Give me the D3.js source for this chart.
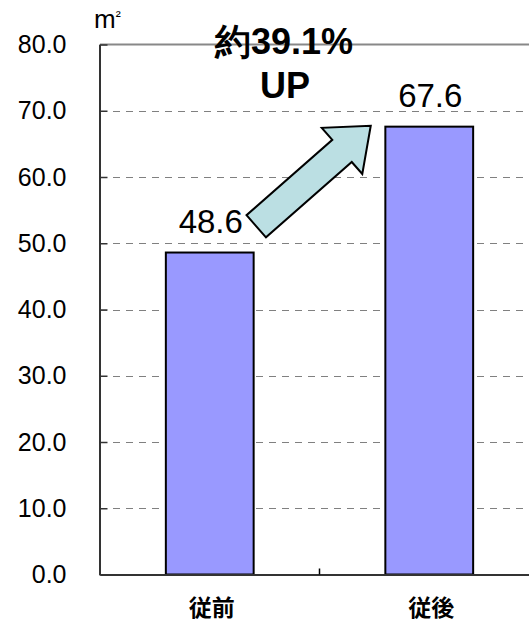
<!DOCTYPE html>
<html>
<head>
<meta charset="utf-8">
<script src="https://cdn.jsdelivr.net/npm/d3@7/dist/d3.min.js"></script>
<style>
  html, body { margin: 0; padding: 0; background: #fff; }
  svg { display: block; }
  text { font-family: "Liberation Sans", Arial, sans-serif; fill: #000; }
  .cjk { font-family: "Noto Sans CJK JP", "Noto Sans CJK SC", sans-serif; }
</style>
</head>
<body>
<svg id="chart" width="529" height="622"></svg>
<script>
// Floor area per household, before and after
const categories = ["従前", "従後"];
const values = [48.6, 67.6];
const yTicks = [0, 10, 20, 30, 40, 50, 60, 70, 80];
const unitLabel = "m";
const increaseLabel = ["約39.1%", "UP"];

const svg = d3.select("#chart");

const plot = { left: 100, right: 539, top: 44.5, bottom: 574.5 };

const y = d3.scaleLinear().domain([0, 80]).range([plot.bottom, plot.top]);
const x = d3.scaleBand()
  .domain(categories)
  .range([plot.left, plot.right])
  .paddingInner(0.6)
  .paddingOuter(0.3);

// dashed gridlines
svg.append("g")
  .selectAll("line")
  .data(yTicks.filter(t => t > 0 && t < 80))
  .join("line")
  .attr("x1", plot.left).attr("x2", plot.right)
  .attr("y1", d => Math.round(y(d)) + 0.5).attr("y2", d => Math.round(y(d)) + 0.5)
  .attr("stroke", "#808080")
  .attr("stroke-width", 1)
  .attr("stroke-dasharray", "7,6");

// top border of plot
svg.append("line")
  .attr("x1", plot.left).attr("x2", plot.right)
  .attr("y1", y(80)).attr("y2", y(80))
  .attr("stroke", "#888")
  .attr("stroke-width", 2);

// bars
svg.append("g")
  .selectAll("rect")
  .data(values)
  .join("rect")
  .attr("x", (d, i) => x(categories[i]))
  .attr("y", d => y(d))
  .attr("width", x.bandwidth())
  .attr("height", d => y(0) - y(d))
  .attr("fill", "#9999FF")
  .attr("stroke", "#000")
  .attr("stroke-width", 2);

// y axis
const yAxis = d3.axisLeft(y)
  .tickValues(yTicks)
  .tickSizeInner(-8)
  .tickSizeOuter(0)
  .tickPadding(33)
  .tickFormat(d3.format(".1f"));
const gy = svg.append("g")
  .attr("transform", `translate(${plot.left - 0.5},0)`)
  .call(yAxis);
gy.select(".domain").attr("stroke", "#333").attr("stroke-width", 2);
gy.selectAll(".tick line").attr("stroke", "#333").attr("stroke-width", 1.5);
gy.selectAll(".tick text")
  .attr("font-size", 25)
  .attr("font-family", "Liberation Sans, Arial, sans-serif")
  .attr("fill", "#000");

// x axis
const xAxis = d3.axisBottom(x).tickSize(0).tickPadding(0);
const gx = svg.append("g")
  .attr("transform", `translate(0,${plot.bottom})`)
  .call(xAxis);
gx.select(".domain").attr("stroke", "#333").attr("stroke-width", 2);
gx.selectAll(".tick text")
  .attr("class", "cjk")
  .attr("font-size", 23)
  .attr("font-weight", 700)
  .attr("fill", "#000")
  .attr("dx", 2)
  .attr("y", 41)
  .attr("dy", 0);

// category boundary tick marks
svg.append("g")
  .selectAll("line")
  .data(categories.slice(1))
  .join("line")
  .attr("x1", d => x(d) - x.step() * x.paddingInner() / 2)
  .attr("x2", d => x(d) - x.step() * x.paddingInner() / 2)
  .attr("y1", plot.bottom).attr("y2", plot.bottom - 6)
  .attr("stroke", "#000")
  .attr("stroke-width", 1.5);

// value labels
svg.append("g")
  .selectAll("text")
  .data(values)
  .join("text")
  .attr("x", (d, i) => x(categories[i]) + x.bandwidth() / 2 + 1)
  .attr("y", d => y(d) - 20)
  .attr("text-anchor", "middle")
  .attr("font-size", 33)
  .text(d => d3.format(".1f")(d));

// unit label
const unit = svg.append("text")
  .attr("x", 94)
  .attr("y", 28)
  .attr("font-size", 26)
  .text(unitLabel);
unit.append("tspan")
  .attr("font-size", 15)
  .attr("dy", -7)
  .text("²");

// increase arrow between the bars
const tail = [x(categories[0]) + x.bandwidth() + 2.6, y(values[0]) - 26.3];
const tip = [x(categories[1]) - 14.6, y(values[1]) - 0.9];
const dxA = tip[0] - tail[0], dyA = tip[1] - tail[1];
const len = Math.hypot(dxA, dyA);
const u = [dxA / len, dyA / len];
const n = [-u[1], u[0]];
const shaftHalf = 14.75, headHalf = 30.7, headLen = 38.2;
const base = [tip[0] - u[0] * headLen, tip[1] - u[1] * headLen];
const pt = (p, k) => [p[0] + n[0] * k, p[1] + n[1] * k];
const arrowPts = [
  pt(tail, shaftHalf), pt(tail, -shaftHalf),
  pt(base, -shaftHalf), pt(base, -headHalf),
  tip,
  pt(base, headHalf), pt(base, shaftHalf)
];
svg.append("path")
  .attr("d", d3.line()(arrowPts) + "Z")
  .attr("fill", "#BBDFE3")
  .attr("stroke", "#000")
  .attr("stroke-width", 2)
  .attr("stroke-linejoin", "miter");

// increase annotation
const ann = svg.append("text")
  .attr("text-anchor", "middle")
  .attr("font-weight", 700)
  .attr("font-size", 36);
ann.append("tspan")
  .attr("x", 284).attr("y", 54)
  .text(increaseLabel[0]);
ann.append("tspan")
  .attr("x", 285).attr("y", 98)
  .text(increaseLabel[1]);
</script>
</body>
</html>
